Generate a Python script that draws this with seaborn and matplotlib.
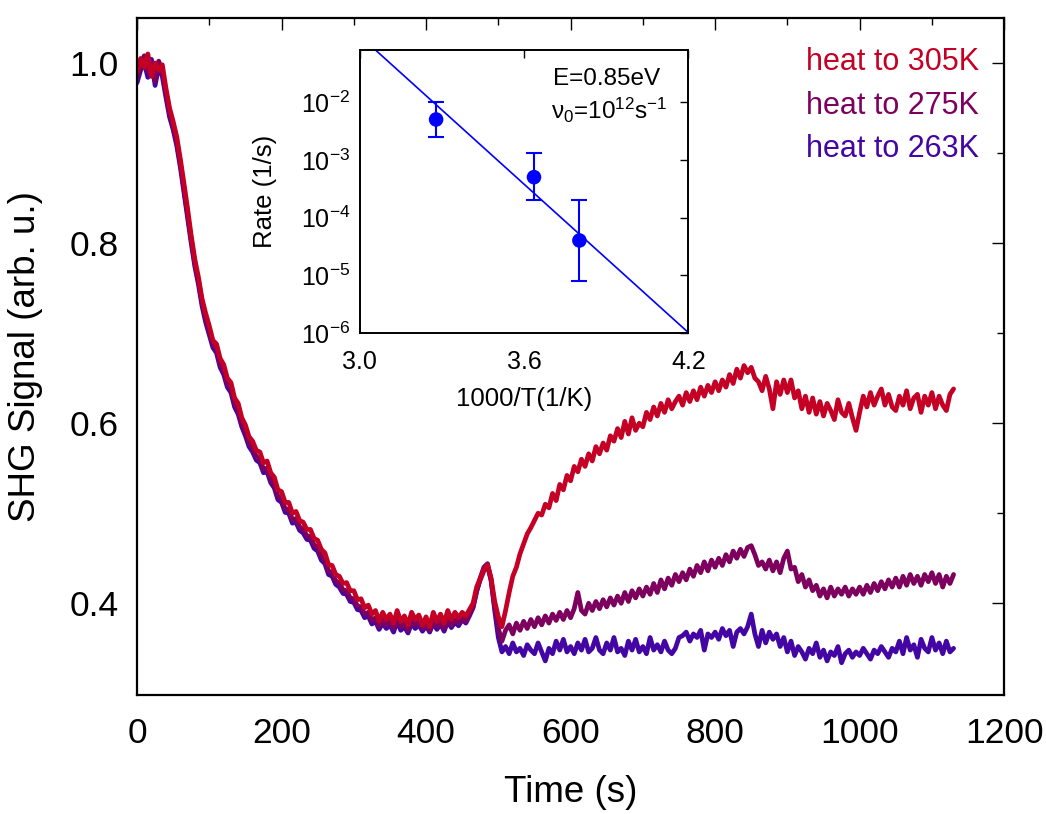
import numpy as np
import pandas as pd
import matplotlib
matplotlib.use("Agg")
import matplotlib.pyplot as plt
import seaborn as sns
from matplotlib.ticker import MultipleLocator, FixedLocator, NullLocator, LogFormatterSciNotation

# ---------------- data ----------------
time_s = np.arange(0, 1135, 5)  # sampling grid, 0..1130 s

shg_305K = [
    0.990, 1.005, 0.995, 1.010, 0.985, 1.000, 0.992, 0.998, 0.972, 0.950,
    0.935, 0.918, 0.893, 0.866, 0.838, 0.808, 0.782, 0.762, 0.738, 0.722,
    0.708, 0.692, 0.688, 0.672, 0.665, 0.650, 0.645, 0.628, 0.622, 0.606,
    0.598, 0.585, 0.580, 0.570, 0.568, 0.556, 0.558, 0.545, 0.540, 0.526,
    0.524, 0.512, 0.512, 0.500, 0.502, 0.492, 0.490, 0.482, 0.482, 0.472,
    0.470, 0.460, 0.456, 0.443, 0.442, 0.432, 0.430, 0.422, 0.423, 0.414,
    0.414, 0.404, 0.405, 0.395, 0.398, 0.388, 0.392, 0.380, 0.390, 0.382,
    0.388, 0.378, 0.392, 0.380, 0.386, 0.376, 0.390, 0.382, 0.387, 0.376,
    0.385, 0.374, 0.390, 0.380, 0.388, 0.378, 0.392, 0.382, 0.390, 0.384,
    0.390, 0.386, 0.393, 0.400, 0.418, 0.428, 0.438, 0.443, 0.428, 0.402,
    0.385, 0.374, 0.392, 0.412, 0.430, 0.440, 0.455, 0.466, 0.477, 0.484,
    0.492, 0.500, 0.498, 0.510, 0.506, 0.522, 0.514, 0.532, 0.526, 0.542,
    0.536, 0.552, 0.546, 0.560, 0.552, 0.566, 0.558, 0.574, 0.566, 0.578,
    0.570, 0.586, 0.580, 0.594, 0.584, 0.602, 0.588, 0.606, 0.592, 0.600,
    0.596, 0.612, 0.604, 0.618, 0.608, 0.622, 0.612, 0.626, 0.616, 0.624,
    0.630, 0.620, 0.634, 0.624, 0.636, 0.626, 0.640, 0.630, 0.642, 0.634,
    0.646, 0.636, 0.648, 0.640, 0.654, 0.644, 0.660, 0.650, 0.664, 0.656,
    0.662, 0.650, 0.646, 0.636, 0.652, 0.638, 0.616, 0.646, 0.632, 0.648,
    0.634, 0.648, 0.628, 0.636, 0.616, 0.630, 0.612, 0.628, 0.610, 0.624,
    0.608, 0.622, 0.614, 0.604, 0.626, 0.612, 0.608, 0.622, 0.606, 0.592,
    0.612, 0.630, 0.618, 0.634, 0.620, 0.630, 0.638, 0.620, 0.632, 0.618,
    0.614, 0.630, 0.620, 0.636, 0.616, 0.628, 0.632, 0.612, 0.630, 0.620,
    0.634, 0.616, 0.630, 0.620, 0.614, 0.632, 0.638,
]

shg_275K = [
    0.985, 0.998, 1.008, 0.990, 0.995, 0.980, 1.002, 0.990, 0.968, 0.945,
    0.930, 0.912, 0.888, 0.860, 0.832, 0.804, 0.778, 0.758, 0.734, 0.716,
    0.702, 0.688, 0.682, 0.666, 0.658, 0.644, 0.638, 0.622, 0.614, 0.600,
    0.590, 0.578, 0.572, 0.563, 0.560, 0.549, 0.550, 0.538, 0.532, 0.519,
    0.516, 0.505, 0.504, 0.493, 0.494, 0.485, 0.482, 0.475, 0.474, 0.465,
    0.462, 0.452, 0.448, 0.436, 0.434, 0.425, 0.422, 0.415, 0.414, 0.406,
    0.405, 0.397, 0.396, 0.388, 0.390, 0.381, 0.384, 0.374, 0.382, 0.376,
    0.380, 0.372, 0.384, 0.374, 0.378, 0.370, 0.382, 0.376, 0.380, 0.372,
    0.378, 0.370, 0.382, 0.374, 0.380, 0.372, 0.384, 0.376, 0.382, 0.378,
    0.384, 0.380, 0.388, 0.396, 0.414, 0.426, 0.436, 0.442, 0.425, 0.396,
    0.372, 0.358, 0.370, 0.376, 0.366, 0.378, 0.370, 0.380, 0.372, 0.382,
    0.374, 0.384, 0.376, 0.386, 0.378, 0.388, 0.381, 0.390, 0.382, 0.392,
    0.384, 0.394, 0.412, 0.392, 0.388, 0.400, 0.392, 0.402, 0.394, 0.404,
    0.396, 0.406, 0.398, 0.408, 0.400, 0.412, 0.402, 0.414, 0.406, 0.416,
    0.408, 0.418, 0.410, 0.422, 0.412, 0.426, 0.416, 0.428, 0.420, 0.432,
    0.424, 0.434, 0.426, 0.438, 0.430, 0.442, 0.434, 0.446, 0.436, 0.448,
    0.440, 0.450, 0.442, 0.454, 0.446, 0.458, 0.450, 0.460, 0.452, 0.462,
    0.464, 0.454, 0.442, 0.446, 0.438, 0.448, 0.436, 0.446, 0.434, 0.450,
    0.458, 0.438, 0.440, 0.424, 0.432, 0.418, 0.426, 0.414, 0.420, 0.408,
    0.416, 0.406, 0.418, 0.408, 0.416, 0.410, 0.418, 0.408, 0.416, 0.410,
    0.418, 0.410, 0.420, 0.412, 0.422, 0.414, 0.424, 0.416, 0.426, 0.418,
    0.428, 0.418, 0.430, 0.420, 0.432, 0.422, 0.430, 0.420, 0.432, 0.424,
    0.434, 0.422, 0.432, 0.418, 0.430, 0.422, 0.432,
]

shg_263K = [
    0.978, 0.992, 1.000, 0.984, 1.004, 0.975, 0.996, 0.985, 0.962, 0.940,
    0.926, 0.908, 0.884, 0.856, 0.828, 0.800, 0.774, 0.754, 0.730, 0.712,
    0.698, 0.684, 0.678, 0.662, 0.654, 0.640, 0.634, 0.618, 0.610, 0.596,
    0.586, 0.574, 0.568, 0.559, 0.556, 0.545, 0.546, 0.534, 0.528, 0.515,
    0.512, 0.501, 0.500, 0.489, 0.490, 0.481, 0.478, 0.471, 0.470, 0.461,
    0.458, 0.448, 0.444, 0.432, 0.430, 0.421, 0.418, 0.411, 0.410, 0.402,
    0.401, 0.393, 0.392, 0.384, 0.386, 0.377, 0.380, 0.371, 0.378, 0.372,
    0.376, 0.368, 0.380, 0.370, 0.374, 0.367, 0.378, 0.372, 0.376, 0.369,
    0.375, 0.368, 0.378, 0.371, 0.377, 0.369, 0.380, 0.373, 0.379, 0.375,
    0.382, 0.378, 0.386, 0.395, 0.413, 0.428, 0.440, 0.444, 0.426, 0.392,
    0.362, 0.346, 0.352, 0.344, 0.356, 0.346, 0.350, 0.342, 0.354, 0.348,
    0.344, 0.356, 0.346, 0.336, 0.350, 0.344, 0.358, 0.348, 0.360, 0.346,
    0.352, 0.344, 0.356, 0.348, 0.360, 0.346, 0.350, 0.362, 0.348, 0.344,
    0.356, 0.348, 0.362, 0.346, 0.350, 0.342, 0.358, 0.348, 0.360, 0.346,
    0.352, 0.344, 0.362, 0.348, 0.354, 0.346, 0.358, 0.348, 0.344, 0.350,
    0.362, 0.364, 0.368, 0.358, 0.366, 0.362, 0.370, 0.348, 0.366, 0.362,
    0.368, 0.360, 0.372, 0.364, 0.370, 0.352, 0.368, 0.372, 0.366, 0.374,
    0.388, 0.366, 0.352, 0.370, 0.356, 0.368, 0.360, 0.366, 0.352, 0.362,
    0.346, 0.358, 0.342, 0.352, 0.346, 0.338, 0.350, 0.344, 0.356, 0.340,
    0.348, 0.336, 0.346, 0.342, 0.352, 0.334, 0.344, 0.348, 0.340, 0.346,
    0.342, 0.350, 0.344, 0.338, 0.348, 0.344, 0.352, 0.346, 0.340, 0.350,
    0.346, 0.358, 0.344, 0.362, 0.348, 0.354, 0.340, 0.360, 0.350, 0.346,
    0.362, 0.348, 0.356, 0.344, 0.358, 0.346, 0.350,
]

series_labels = ["heat to 305K", "heat to 275K", "heat to 263K"]
series_colors = ["#c40025", "#7e005e", "#4305a3"]

# inset: Arrhenius data
inv_T = [1000 / 305, 1000 / 275, 1000 / 263]       # 1000/T (1/K)
rate = [5.0e-3, 5.0e-4, 4.0e-5]                     # 1/s
rate_lo = [2.5e-3, 2.0e-4, 8.0e-6]
rate_hi = [1.0e-2, 1.3e-3, 2.0e-4]
E_act = 0.85      # eV
nu0 = 1e12        # 1/s
kB = 8.617e-5     # eV/K
fit_x = [3.0, 4.2]

# ---------------- style ----------------
sns.set_theme(style="white")
plt.rcParams["font.family"] = ["Liberation Sans", "DejaVu Sans"]
plt.rcParams["mathtext.fontset"] = "custom"
plt.rcParams["mathtext.rm"] = "Liberation Sans"
plt.rcParams["mathtext.it"] = "Liberation Sans:italic"
plt.rcParams["mathtext.bf"] = "Liberation Sans:bold"
plt.rcParams["axes.unicode_minus"] = True
for key in ["text.color", "axes.labelcolor", "xtick.color", "ytick.color",
            "axes.edgecolor"]:
    plt.rcParams[key] = "black"

fig = plt.figure(figsize=(10.46, 8.14), dpi=100)
ax = fig.add_axes([0.131, 0.146, 0.829, 0.832])

df = pd.concat([
    pd.DataFrame({"t": time_s, "v": shg_263K, "s": series_labels[2]}),
    pd.DataFrame({"t": time_s, "v": shg_275K, "s": series_labels[1]}),
    pd.DataFrame({"t": time_s, "v": shg_305K, "s": series_labels[0]}),
])
palette = dict(zip(series_labels, series_colors))
sns.lineplot(data=df, x="t", y="v", hue="s", hue_order=series_labels[::-1],
             palette=palette, estimator=None, sort=False, linewidth=3.4,
             legend=False, ax=ax)

ax.set_xlim(0, 1200)
ax.set_ylim(0.298, 1.05)
ax.xaxis.set_major_locator(MultipleLocator(200))
ax.xaxis.set_minor_locator(MultipleLocator(100))
ax.yaxis.set_major_locator(FixedLocator([0.4, 0.6, 0.8, 1.0]))
ax.yaxis.set_minor_locator(FixedLocator([0.5, 0.7, 0.9]))
ax.yaxis.set_major_formatter(matplotlib.ticker.FormatStrFormatter("%.1f"))
ax.tick_params(which="both", direction="in", top=True, right=True,
               colors="black", width=1.0)
ax.tick_params(which="major", length=8.5, labelsize=25.5, pad=13)
ax.tick_params(which="minor", length=5)
ax.tick_params(axis="x", which="major", pad=16)
for sp in ax.spines.values():
    sp.set_color("black")
    sp.set_linewidth(1.6)
ax.set_xlabel("Time (s)", fontsize=26.5)
ax.set_ylabel("SHG Signal (arb. u.)", fontsize=26.5)
ax.xaxis.set_label_coords(0.5, -0.118)
ax.yaxis.set_label_coords(-0.108, 0.5)

ytxt = [0.935, 0.870, 0.807]
for lab, col, yy in zip(series_labels, series_colors, ytxt):
    ax.text(0.971, yy, lab, color=col, fontsize=22, ha="right", va="center",
            transform=ax.transAxes)

# ---------------- inset ----------------
axi = fig.add_axes([0.344, 0.591, 0.314, 0.3476])
axi.set_yscale("log")
fit_y = [nu0 * np.exp(-E_act / (kB * (1000.0 / x))) for x in fit_x]
sns.lineplot(x=fit_x, y=fit_y, color="#0000ff", linewidth=1.2, ax=axi)
yerr = np.array([[r - lo for r, lo in zip(rate, rate_lo)],
                 [hi - r for r, hi in zip(rate, rate_hi)]])
axi.errorbar(inv_T, rate, yerr=yerr, fmt="none", ecolor="#0000ff",
             elinewidth=1.5, capsize=6, capthick=1.5)
sns.scatterplot(x=inv_T, y=rate, color="#0000ff", s=110, edgecolor="none",
                ax=axi, zorder=5)
axi.set_xlim(3.0, 4.2)
axi.set_ylim(1e-6, 0.08)
axi.xaxis.set_major_locator(FixedLocator([3.0, 3.6, 4.2]))
axi.xaxis.set_minor_locator(NullLocator())
axi.xaxis.set_major_formatter(matplotlib.ticker.FormatStrFormatter("%.1f"))
axi.yaxis.set_major_locator(FixedLocator([1e-6, 1e-5, 1e-4, 1e-3, 1e-2]))
axi.yaxis.set_minor_locator(NullLocator())
axi.yaxis.set_major_formatter(LogFormatterSciNotation())
axi.tick_params(which="both", direction="in", top=True, right=True,
                colors="black", length=6, width=1.0, labelsize=18)
axi.tick_params(axis="x", pad=12)
axi.tick_params(axis="y", pad=7)
for sp in axi.spines.values():
    sp.set_color("black")
    sp.set_linewidth(1.4)
axi.set_xlabel("1000/T(1/K)", fontsize=18.5)
axi.set_ylabel("Rate (1/s)", fontsize=18.5)
axi.xaxis.set_label_coords(0.5, -0.19)
axi.yaxis.set_label_coords(-0.253, 0.5)
axi.text(0.915, 0.876, "E=0.85eV", fontsize=17.5, ha="right", va="baseline",
         transform=axi.transAxes)
axi.text(0.936, 0.756, "ν$_0$=10$^{12}$s$^{-1}$", fontsize=17.5, ha="right",
         va="baseline", transform=axi.transAxes)

fig.savefig("out.png", dpi=100)
